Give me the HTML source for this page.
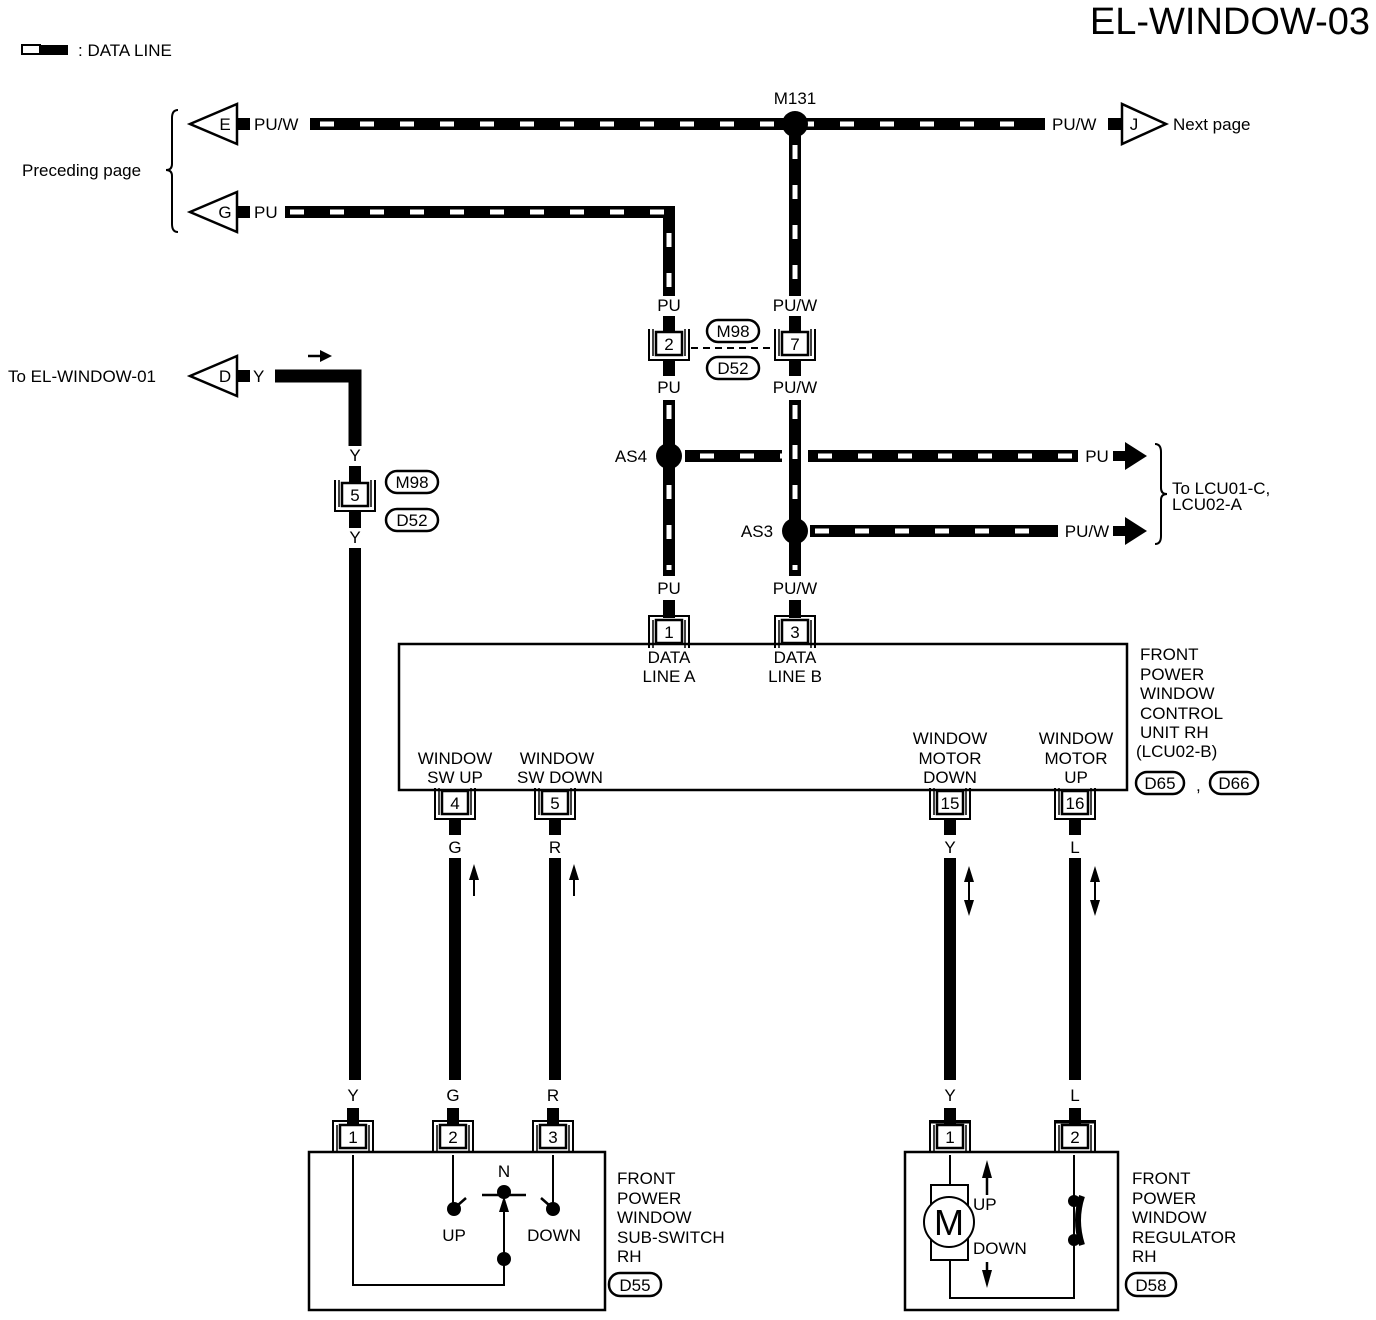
<!DOCTYPE html>
<html><head><meta charset="utf-8"><style>
html,body{margin:0;padding:0;background:#fff;}
svg{display:block;}
text{font-family:"Liberation Sans",Arial,sans-serif;font-size:17px;fill:#000;}
.c{text-anchor:middle;}
</style></head><body>
<svg width="1376" height="1320" viewBox="0 0 1376 1320" xmlns="http://www.w3.org/2000/svg">
<defs>
<g id="ctop"><rect x="-13" y="0" width="26" height="23" fill="#fff" stroke="#000" stroke-width="2.5"/><path d="M-20 28 V-4 H20 V28" fill="none" stroke="#000" stroke-width="2"/><path d="M-16 28 V0 M16 28 V0" stroke="#000" stroke-width="1.5"/></g>
<g id="cbot"><rect x="-13" y="0" width="26" height="23" fill="#fff" stroke="#000" stroke-width="2.5"/><path d="M-20 -3 V28 H20 V-3" fill="none" stroke="#000" stroke-width="2"/><path d="M-16 -3 V24 M16 -3 V24" stroke="#000" stroke-width="1.5"/></g>
</defs>

<text x="1370" y="34" style="font-size:38px;text-anchor:end">EL-WINDOW-03</text>
<rect x="22" y="45" width="18" height="9" fill="#fff" stroke="#000" stroke-width="2"/><rect x="40" y="45" width="28" height="10" fill="#000"/>
<text x="78" y="56">: DATA LINE</text>

<g fill="none" stroke-linecap="butt">
<path d="M310 124 H1045" stroke="#000" stroke-width="12"/>
<path d="M320 124 H1040" stroke="#fff" stroke-width="5" stroke-dasharray="14 26"/>
<path d="M285 212 H669 V296" stroke="#000" stroke-width="12"/>
<path d="M290 212 H669 V296" stroke="#fff" stroke-width="5" stroke-dasharray="14 26"/>
<path d="M795 124 V296" stroke="#000" stroke-width="12"/>
<path d="M795 145 V296" stroke="#fff" stroke-width="5" stroke-dasharray="14 26"/>
<path d="M669 316 V332 M795 316 V332 M669 360 V376 M795 360 V376" stroke="#000" stroke-width="12"/>
<path d="M669 400 V576 M795 400 V576" stroke="#000" stroke-width="12"/>
<path d="M669 405 V570 M795 405 V570" stroke="#fff" stroke-width="5" stroke-dasharray="14 26"/>
<path d="M669 600 V618 M795 600 V618" stroke="#000" stroke-width="12"/>
<path d="M685 456 H782 M808 456 H1078" stroke="#000" stroke-width="12"/>
<path d="M700 456 H782 M818 456 H1072" stroke="#fff" stroke-width="5" stroke-dasharray="14 26"/>
<path d="M810 531 H1058" stroke="#000" stroke-width="12"/>
<path d="M815 531 H1052" stroke="#fff" stroke-width="5" stroke-dasharray="14 26"/>
<path d="M275 376 H355 V446" stroke="#000" stroke-width="13"/>
<path d="M355 466 V482 M355 512 V528 M355 548 V1080 M353 1108 V1124" stroke="#000" stroke-width="12"/>
<path d="M455 820 V835 M455 858 V1080 M453 1108 V1124 M555 820 V835 M555 858 V1080 M553 1108 V1124" stroke="#000" stroke-width="12"/>
<path d="M950 820 V835 M950 858 V1080 M950 1108 V1124 M1075 820 V835 M1075 858 V1080 M1075 1108 V1124" stroke="#000" stroke-width="12"/>
<path d="M238 124 H250 M238 212 H250 M238 376 H250 M1108 124 H1122" stroke="#000" stroke-width="12"/>
<path d="M1113 456 H1127 M1113 531 H1127" stroke="#000" stroke-width="10"/>
</g>
<polygon points="1125,442 1147,456 1125,470" fill="#000"/>
<polygon points="1125,517 1147,531 1125,545" fill="#000"/>

<circle cx="795" cy="124" r="13" fill="#000"/>
<circle cx="669" cy="456" r="13" fill="#000"/>
<circle cx="795" cy="531" r="13" fill="#000"/>

<g fill="#fff" stroke="#000" stroke-width="2.5">
<polygon points="190,124 237,104 237,144"/>
<polygon points="190,212 237,192 237,232"/>
<polygon points="190,376 237,356 237,396"/>
<polygon points="1122,104 1122,144 1166,124"/>
</g>
<text x="225" y="130" class="c">E</text>
<text x="225" y="218" class="c">G</text>
<text x="225" y="382" class="c">D</text>
<text x="1134" y="130" class="c">J</text>
<text x="254" y="130">PU/W</text>
<text x="254" y="218">PU</text>
<text x="253" y="382">Y</text>
<text x="1052" y="130">PU/W</text>
<text x="1173" y="130">Next page</text>
<text x="22" y="176">Preceding page</text>
<text x="8" y="382">To EL-WINDOW-01</text>
<path d="M178 110 Q172 110 172 118 V164 Q172 170 166 170 Q172 170 172 176 V224 Q172 232 178 232" fill="none" stroke="#000" stroke-width="2"/>
<path d="M1155 444 Q1161 444 1161 452 V488 Q1161 494 1167 494 Q1161 494 1161 500 V536 Q1161 544 1155 544" fill="none" stroke="#000" stroke-width="2"/>
<text x="1172" y="494">To LCU01-C,</text>
<text x="1172" y="510">LCU02-A</text>
<path d="M308 356 H324" stroke="#000" stroke-width="2.5"/><polygon points="320,350 332,356 320,362" fill="#000"/>

<text x="795" y="104" class="c">M131</text>
<text x="669" y="311" class="c">PU</text><text x="795" y="311" class="c">PU/W</text>
<text x="669" y="393" class="c">PU</text><text x="795" y="393" class="c">PU/W</text>
<text x="631" y="462" class="c">AS4</text><text x="757" y="537" class="c">AS3</text>
<text x="1097" y="462" class="c">PU</text><text x="1087" y="537" class="c">PU/W</text>
<text x="669" y="594" class="c">PU</text><text x="795" y="594" class="c">PU/W</text>
<text x="355" y="461" class="c">Y</text><text x="355" y="543" class="c">Y</text>

<use href="#cbot" x="669" y="332"/><use href="#cbot" x="795" y="332"/>
<text x="669" y="350" class="c">2</text><text x="795" y="350" class="c">7</text>
<path d="M691 348 H773" stroke="#000" stroke-width="2" stroke-dasharray="7 5"/>
<rect x="707" y="320" width="52" height="22" rx="11" fill="#fff" stroke="#000" stroke-width="2.5"/><text x="733" y="337" class="c">M98</text>
<rect x="707" y="357" width="52" height="22" rx="11" fill="#fff" stroke="#000" stroke-width="2.5"/><text x="733" y="374" class="c">D52</text>
<use href="#cbot" x="355" y="483"/><text x="355" y="501" class="c">5</text>
<rect x="386" y="471" width="52" height="22" rx="11" fill="#fff" stroke="#000" stroke-width="2.5"/><text x="412" y="488" class="c">M98</text>
<rect x="386" y="509" width="52" height="22" rx="11" fill="#fff" stroke="#000" stroke-width="2.5"/><text x="412" y="526" class="c">D52</text>

<rect x="399" y="644" width="728" height="146" fill="#fff" stroke="#000" stroke-width="2.5"/>
<use href="#ctop" x="669" y="620"/><use href="#ctop" x="795" y="620"/>
<text x="669" y="638" class="c">1</text><text x="795" y="638" class="c">3</text>
<text x="669" y="663" class="c">DATA</text><text x="669" y="682" class="c">LINE A</text>
<text x="795" y="663" class="c">DATA</text><text x="795" y="682" class="c">LINE B</text>
<text x="455" y="764" class="c">WINDOW</text><text x="455" y="783" class="c">SW UP</text>
<text x="557" y="764" class="c">WINDOW</text><text x="560" y="783" class="c">SW DOWN</text>
<text x="950" y="744" class="c">WINDOW</text><text x="950" y="764" class="c">MOTOR</text><text x="950" y="783" class="c">DOWN</text>
<text x="1076" y="744" class="c">WINDOW</text><text x="1076" y="764" class="c">MOTOR</text><text x="1076" y="783" class="c">UP</text>
<text x="1140" y="660">FRONT</text><text x="1140" y="680">POWER</text><text x="1140" y="699">WINDOW</text><text x="1140" y="719">CONTROL</text><text x="1140" y="738">UNIT RH</text><text x="1136" y="757">(LCU02-B)</text>
<rect x="1136" y="772" width="48" height="22" rx="11" fill="#fff" stroke="#000" stroke-width="2.5"/><text x="1160" y="789" class="c">D65</text>
<text x="1196" y="791">,</text>
<rect x="1210" y="772" width="48" height="22" rx="11" fill="#fff" stroke="#000" stroke-width="2.5"/><text x="1234" y="789" class="c">D66</text>
<use href="#cbot" x="455" y="791"/><use href="#cbot" x="555" y="791"/><use href="#cbot" x="950" y="791"/><use href="#cbot" x="1075" y="791"/>
<text x="455" y="809" class="c">4</text><text x="555" y="809" class="c">5</text><text x="950" y="809" class="c">15</text><text x="1075" y="809" class="c">16</text>
<text x="455" y="853" class="c">G</text><text x="555" y="853" class="c">R</text><text x="950" y="853" class="c">Y</text><text x="1075" y="853" class="c">L</text>
<path d="M474 872 V896 M574 872 V896" stroke="#000" stroke-width="2"/>
<polygon points="469,880 474,864 479,880" fill="#000"/><polygon points="569,880 574,864 579,880" fill="#000"/>
<path d="M969 870 V910 M1095 870 V910" stroke="#000" stroke-width="2"/>
<polygon points="964,882 969,866 974,882" fill="#000"/><polygon points="964,900 969,916 974,900" fill="#000"/>
<polygon points="1090,882 1095,866 1100,882" fill="#000"/><polygon points="1090,900 1095,916 1100,900" fill="#000"/>

<text x="353" y="1101" class="c">Y</text><text x="453" y="1101" class="c">G</text><text x="553" y="1101" class="c">R</text>
<text x="950" y="1101" class="c">Y</text><text x="1075" y="1101" class="c">L</text>

<rect x="309" y="1152" width="296" height="158" fill="#fff" stroke="#000" stroke-width="2.5"/>
<use href="#ctop" x="353" y="1125"/><use href="#ctop" x="453" y="1125"/><use href="#ctop" x="553" y="1125"/>
<text x="353" y="1143" class="c">1</text><text x="453" y="1143" class="c">2</text><text x="553" y="1143" class="c">3</text>
<path d="M353 1155 V1285 H504 V1258 M453 1155 V1208 M553 1155 V1208 M504 1258 V1200" fill="none" stroke="#000" stroke-width="2"/>
<circle cx="454" cy="1209" r="7" fill="#000"/><circle cx="553" cy="1209" r="7" fill="#000"/><circle cx="504" cy="1192" r="7" fill="#000"/><circle cx="504" cy="1259" r="7" fill="#000"/>
<path d="M482 1195 L526 1195 M458 1205 L466 1198 M549 1205 L541 1198" stroke="#000" stroke-width="2.5"/>
<polygon points="499,1212 504,1196 509,1212" fill="#000"/>
<text x="504" y="1177" class="c">N</text><text x="454" y="1241" class="c">UP</text><text x="554" y="1241" class="c">DOWN</text>
<text x="617" y="1184">FRONT</text><text x="617" y="1204">POWER</text><text x="617" y="1223">WINDOW</text><text x="617" y="1243">SUB-SWITCH</text><text x="617" y="1262">RH</text>
<rect x="609" y="1273" width="52" height="23" rx="11" fill="#fff" stroke="#000" stroke-width="2.5"/><text x="635" y="1291" class="c">D55</text>

<rect x="905" y="1152" width="213" height="158" fill="#fff" stroke="#000" stroke-width="2.5"/>
<use href="#ctop" x="950" y="1125"/><use href="#ctop" x="1075" y="1125"/>
<path d="M930 1122 H970 M1055 1122 H1095" stroke="#000" stroke-width="3"/>
<text x="950" y="1143" class="c">1</text><text x="1075" y="1143" class="c">2</text>
<path d="M950 1155 V1185 M950 1260 V1298 H1074 V1155" fill="none" stroke="#000" stroke-width="2"/>
<rect x="931" y="1185" width="37" height="75" fill="#fff" stroke="#000" stroke-width="2"/>
<circle cx="949" cy="1222" r="25" fill="#fff" stroke="#000" stroke-width="2"/>
<text x="949" y="1235" class="c" style="font-size:36px">M</text>
<path d="M987 1165 V1195 M987 1262 V1282" stroke="#000" stroke-width="2.5"/>
<polygon points="982,1178 987,1160 992,1178" fill="#000"/><polygon points="982,1270 987,1288 992,1270" fill="#000"/>
<text x="973" y="1210">UP</text><text x="973" y="1254">DOWN</text>
<circle cx="1074" cy="1201" r="6" fill="#000"/><circle cx="1074" cy="1240" r="6" fill="#000"/>
<path d="M1082 1196 Q1074 1220 1082 1245" fill="none" stroke="#000" stroke-width="6"/>
<text x="1132" y="1184">FRONT</text><text x="1132" y="1204">POWER</text><text x="1132" y="1223">WINDOW</text><text x="1132" y="1243">REGULATOR</text><text x="1132" y="1262">RH</text>
<rect x="1126" y="1273" width="50" height="23" rx="11" fill="#fff" stroke="#000" stroke-width="2.5"/><text x="1151" y="1291" class="c">D58</text>
</svg>
</body></html>
